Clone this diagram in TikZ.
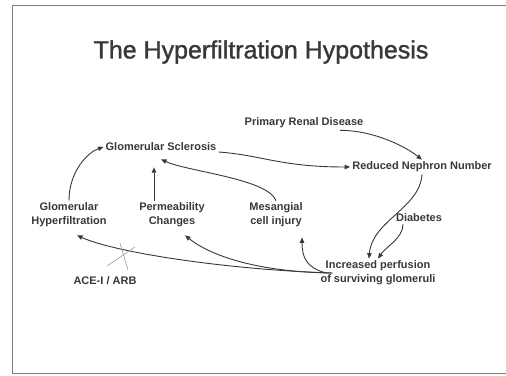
\documentclass[tikz,border=0pt]{standalone}
\usepackage{fontspec}
\setmainfont{Liberation Sans}
\usepackage{tikz}
\usetikzlibrary{arrows.meta}

\definecolor{ink}{HTML}{383838}

\begin{document}
\begin{tikzpicture}[x=1pt, y=-1pt,
        lbl/.style={text=ink, font=\fontsize{11}{14}\selectfont\bfseries, align=center, inner sep=2pt},
        arr/.style={draw=ink, line width=0.9pt, -{Triangle[length=5.5pt,width=4.5pt]}}]
    \useasboundingbox (0,0) rectangle (506,375);
    % slide frame
    \draw[gray, line width=0.8pt] (506,5) -- (12,5) -- (12,373) -- (506,373);

    \node[text=ink, font=\fontsize{25}{30}\selectfont\addfontfeatures{FakeBold=1.3}] (title) at (261,52) {The Hyperfiltration Hypothesis};

    \node[lbl] (primary) at (304,123) {Primary Renal Disease};
    \node[lbl] (sclerosis) at (161,147) {Glomerular Sclerosis};
    \node[lbl] (reduced) at (422,167) {Reduced Nephron Number};
    \node[lbl] (hyper) at (69,215) {Glomerular\\Hyperfiltration};
    \node[lbl] (perm) at (172,215) {Permeability\\Changes};
    \node[lbl] (mesang) at (276,215) {Mesangial\\cell injury};
    \node[lbl] (diabetes) at (419,218) {Diabetes};
    \node[lbl] (perfusion) at (378,273) {Increased perfusion\\of surviving glomeruli};
    \node[lbl] (ace) at (105,281) {ACE-I / ARB};

    % top of the loop
    \draw[arr] ([xshift=36pt]primary.south) .. controls +(35,0) and +(-15,-12) .. (reduced.north);
    \draw[arr] ([yshift=-5pt]sclerosis.east) .. controls +(43,3) and +(-70,0) .. (reduced.west);
    \draw[arr] (hyper.north) .. controls +(0,-30) and +(-15,5) .. (sclerosis.west);
    \draw[arr, shorten >=14pt] ([xshift=-18pt]perm.north) -- ([xshift=-7pt]sclerosis.south);
    \draw[arr] (mesang.north) .. controls +(-8,-22) and +(25,12) .. ([yshift=-6pt]sclerosis.south);

    % into the perfusion node
    \draw[arr] (reduced.south) .. controls +(-2,34) and +(3,-38) .. ([xshift=-9pt]perfusion.north);
    \draw[arr] ([xshift=-16pt]diabetes.south) .. controls +(0,14) and +(8,-12) .. (perfusion.north);

    % back out of it
    \draw[arr] ([xshift=14pt]perfusion.west) .. controls +(-100,-3) and +(40,18) .. ([xshift=8pt,yshift=-6pt]hyper.south);
    \draw[arr] ([xshift=14pt]perfusion.west) .. controls +(-76,-1) and +(25,20) .. ([xshift=13pt,yshift=-6pt]perm.south);
    \draw[arr] ([xshift=8pt]perfusion.west) .. controls +(-20,-5) and +(0,20) .. ([xshift=26pt,yshift=-8pt]mesang.south);

    % the block
    \coordinate (block) at (123,255);
    \draw[gray!70, line width=0.7pt] ([shift={(-16,11)}]block) -- ([shift={(12,-8)}]block);
    \draw[gray!70, line width=0.7pt] ([shift={(-3,-12)}]block) -- ([shift={(5,15)}]block);
\end{tikzpicture}
\end{document}
